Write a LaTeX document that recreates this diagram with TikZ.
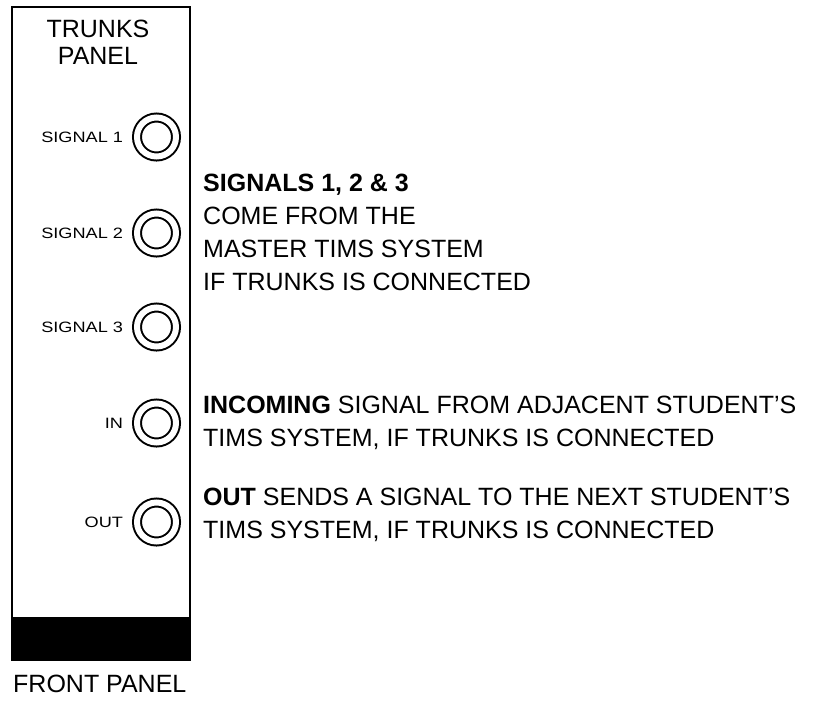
\documentclass[tikz,border=0pt]{standalone}
\usepackage{fontspec}
\setmainfont{Liberation Sans}
\usepackage{graphicx}
\newcommand{\jacklabel}[1]{\scalebox{1.21}[1]{\fontsize{15}{15}\selectfont #1}}

\begin{document}
\begin{tikzpicture}[x=1pt,y=-1pt]
  \tikzset{jack/.style={draw,circle,double,double distance=6pt,line width=2pt,
    minimum size=39pt,inner sep=0pt,outer sep=0pt}}
  \tikzset{every label/.style={inner sep=0pt,outer sep=0pt,xshift=-14pt}}
  \tikzset{note/.style={anchor=west,align=left,inner sep=0pt,
    font=\fontsize{25}{33}\selectfont}}
  \useasboundingbox (0,0) rectangle (820,707);
  % panel
  \draw[line width=2.5pt] (12,7) rectangle (190,660);
  \fill (12,617) rectangle (190,660);
  \node[align=center,inner sep=0pt,font=\fontsize{25}{27}\selectfont] (title) at (98,42) {TRUNKS\\PANEL};
  % sockets
  \node[jack] (sigOne) at (156.5,137) [label=left:\jacklabel{SIGNAL 1}] {};
  \node[jack] (sigTwo) at (156.5,233) [label=left:\jacklabel{SIGNAL 2}] {};
  \node[jack] (sigThree) at (156.5,327) [label=left:\jacklabel{SIGNAL 3}] {};
  \node[jack] (in) at (156.5,423) [label=left:\jacklabel{IN}] {};
  \node[jack] (out) at (156.5,522) [label=left:\jacklabel{OUT}] {};
  % notes
  \node[note] (sigNote) at (203,232) {\textbf{SIGNALS 1, 2 \& 3}\\COME FROM THE\\MASTER TIMS SYSTEM\\IF TRUNKS IS CONNECTED};
  \node[note] (inNote) at (203,423) {\textbf{INCOMING} SIGNAL FROM ADJACENT STUDENT'S\\TIMS SYSTEM, IF TRUNKS IS CONNECTED};
  \node[note] (outNote) at (203,515) {\textbf{OUT} SENDS A SIGNAL TO THE NEXT STUDENT'S\\TIMS SYSTEM, IF TRUNKS IS CONNECTED};
  \node[anchor=west,inner sep=0pt,font=\fontsize{25}{25}\selectfont] (front) at (13,684) {FRONT PANEL};
\end{tikzpicture}
\end{document}
